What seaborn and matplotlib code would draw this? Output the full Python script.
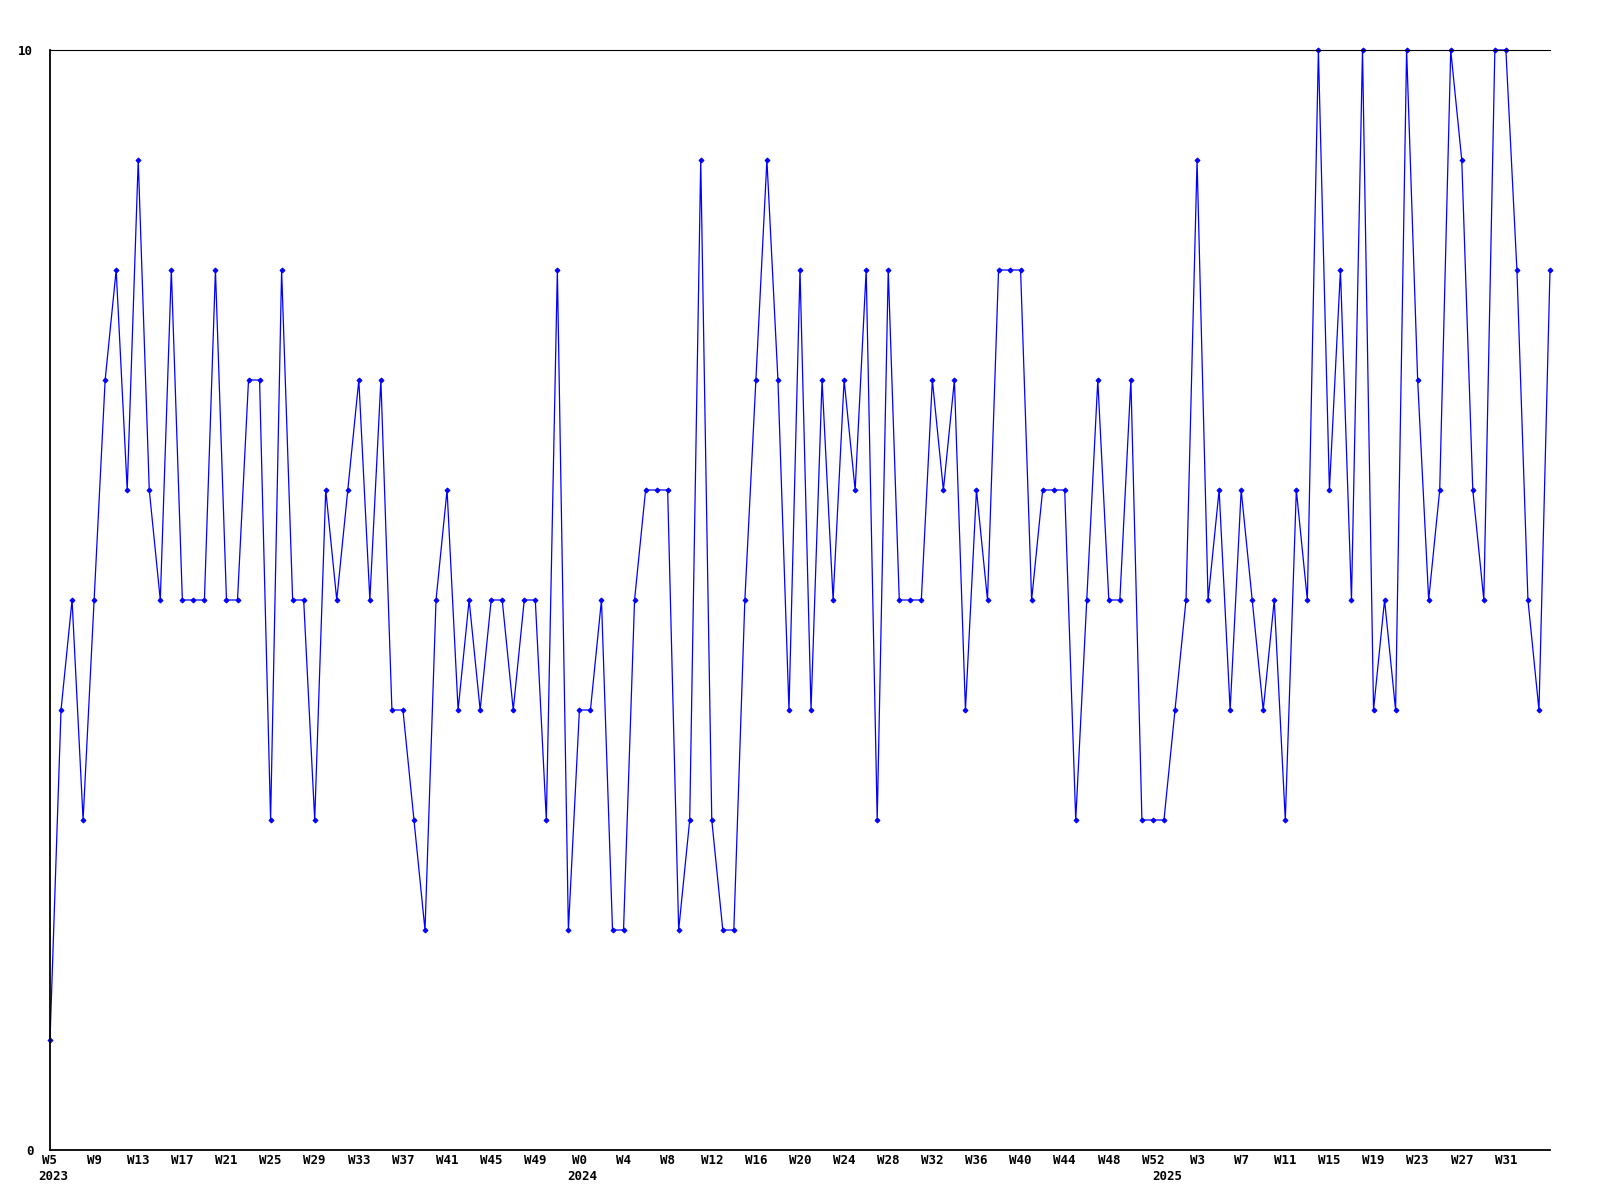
import pandas as pd
import matplotlib
matplotlib.use("Agg")
import matplotlib.pyplot as plt
import seaborn as sns

# weekly values, 2023 W5 .. 2025 W35
values = [1, 4, 5, 3, 5, 7, 8, 6, 9, 6,
          5, 8, 5, 5, 5, 8, 5, 5, 7, 7,
          3, 8, 5, 5, 3, 6, 5, 6, 7, 5,
          7, 4, 4, 3, 2, 5, 6, 4, 5, 4,
          5, 5, 4, 5, 5, 3, 8, 2, 4, 4,
          5, 2, 2, 5, 6, 6, 6, 2, 3, 9,
          3, 2, 2, 5, 7, 9, 7, 4, 8, 4,
          7, 5, 7, 6, 8, 3, 8, 5, 5, 5,
          7, 6, 7, 4, 6, 5, 8, 8, 8, 5,
          6, 6, 6, 3, 5, 7, 5, 5, 7, 3,
          3, 3, 4, 5, 9, 5, 6, 4, 6, 5,
          4, 5, 3, 6, 5, 10, 6, 8, 5, 10,
          4, 5, 4, 10, 7, 5, 6, 10, 9, 6,
          5, 10, 10, 8, 5, 4, 8]

# week numbers per year (as shown on the axis, %U style)
weeks_2023 = list(range(5, 53))
weeks_2024 = list(range(0, 53))
weeks_2025 = list(range(0, 36))

years = [2023] * len(weeks_2023) + [2024] * len(weeks_2024) + [2025] * len(weeks_2025)
weeks = weeks_2023 + weeks_2024 + weeks_2025

df = pd.DataFrame({"idx": range(len(values)), "year": years, "week": weeks, "value": values})

sns.set_style("white")
plt.rcParams['font.family'] = ['DejaVu Sans Mono', 'DejaVu Sans']

fig = plt.figure(figsize=(16, 12), dpi=100)
ax = fig.add_axes([50 / 1600, 1 - 1150 / 1200, 1500 / 1600, 1100 / 1200])

sns.lineplot(data=df, x="idx", y="value", ax=ax, color="#0000ff", linewidth=0.9,
             marker="D", markersize=2.5, markeredgecolor="#0000ff", clip_on=False)

ax.set_xlim(0, len(values) - 1)
ax.set_ylim(0, 10)

# x ticks every 4 weeks (last point has no label)
tick_pos = [i for i in range(0, len(values), 4) if i < len(values) - 1]
ax.set_xticks(tick_pos)
ax.set_xticklabels([f"W{df.week[i]}" for i in tick_pos], fontsize=9, fontweight="bold")
ax.set_yticks([0, 10])
ax.set_yticklabels(["0", "10"], fontsize=9, fontweight="bold")
ax.tick_params(axis="x", length=0, pad=3, labelcolor="black")
ax.tick_params(axis="y", length=0, pad=12, labelcolor="black")

# year labels under first week of each year
first_of_year = df.groupby("year")["idx"].min()
for yr, i in first_of_year.items():
    ax.text(i + 0.3, -0.024, str(yr), transform=ax.get_xaxis_transform(),
            ha="center", va="center", fontsize=9, fontweight="bold", color="black")

ax.set_xlabel("")
ax.set_ylabel("")
for side in ["left", "bottom"]:
    ax.spines[side].set_color("black")
    ax.spines[side].set_linewidth(1.3)
ax.spines["top"].set_color("black")
ax.spines["top"].set_linewidth(0.8)
ax.spines["right"].set_visible(False)

plt.savefig("out.png", dpi=100)
